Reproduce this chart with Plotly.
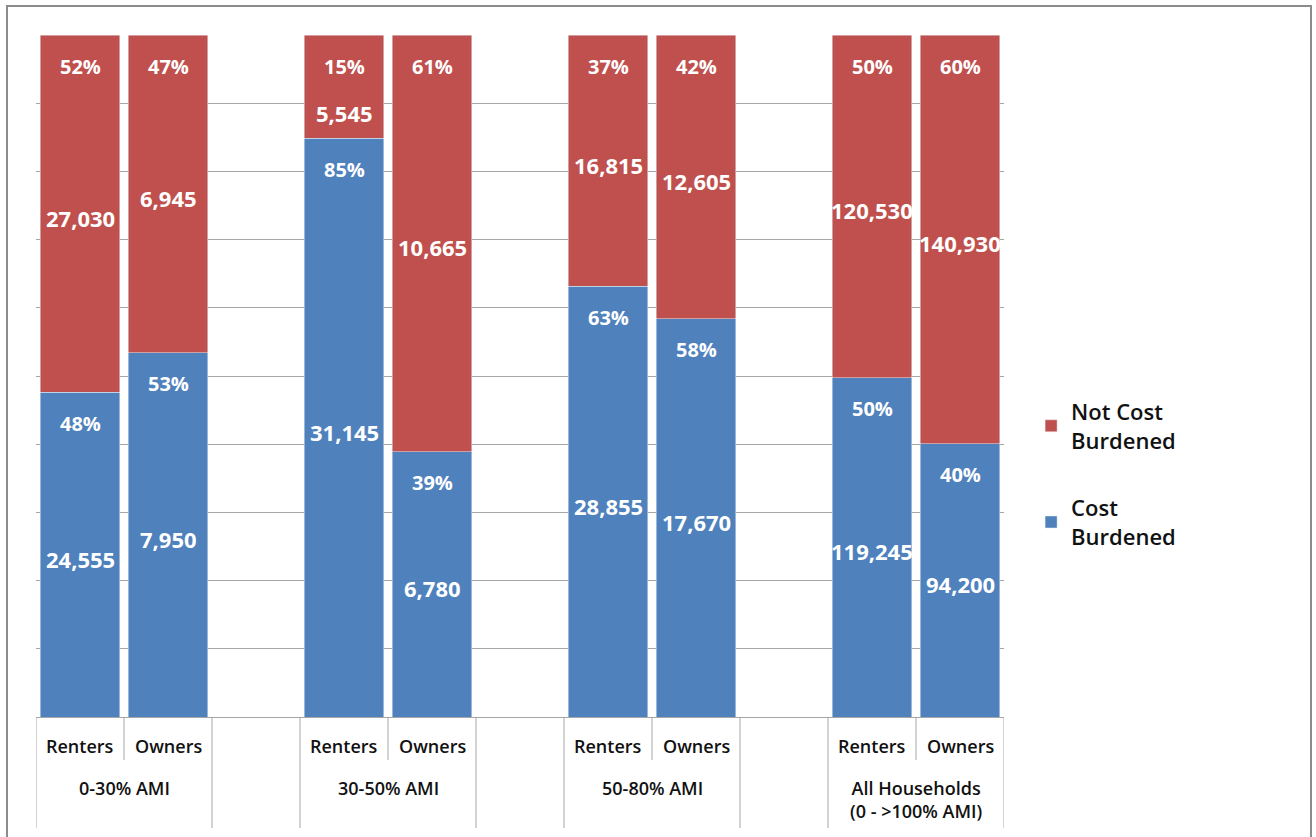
import plotly.graph_objects as go

# ---- data ----
groups = ["0-30% AMI", "30-50% AMI", "50-80% AMI", "All Households<br>(0 - >100% AMI)"]
tenures = ["Renters", "Owners"]
cost_burdened = [24555, 7950, 31145, 6780, 28855, 17670, 119245, 94200]
not_cost_burdened = [27030, 6945, 5545, 10665, 16815, 12605, 120530, 140930]
pct_cost_burdened = ["48%", "53%", "85%", "39%", "63%", "58%", "50%", "40%"]
pct_not_cost_burdened = ["52%", "47%", "15%", "61%", "37%", "42%", "50%", "60%"]

RED = "#C0504D"
BLUE = "#4F81BD"
FONT = "Open Sans"

# positions: each group takes 3 slots (Renters, Owners, blank)
xs, xlabels = [], []
for gi, g in enumerate(groups):
    for ti, t in enumerate(tenures):
        xs.append(gi * 3 + ti)
        xlabels.append(t)

totals = [a + b for a, b in zip(cost_burdened, not_cost_burdened)]
frac_cb = [a / t for a, t in zip(cost_burdened, totals)]
frac_ncb = [b / t for b, t in zip(not_cost_burdened, totals)]

fig = go.Figure()
fig.add_trace(go.Bar(x=xs, y=frac_cb, name="Cost<br>Burdened", marker_color=BLUE,
                     width=0.9, hoverinfo="skip", legendgroup="cb", legendrank=2))
fig.add_trace(go.Bar(x=xs, y=frac_ncb, name="Not Cost<br>Burdened", marker_color=RED,
                     width=0.9, hoverinfo="skip", legendgroup="ncb", legendrank=1))

PLOT_H = 682.0
lab_pct = dict(family=FONT, size=20, color="white", weight="bold")
lab_cnt = dict(family=FONT, size=22, color="white", weight="bold")
annots = []
for i, x in enumerate(xs):
    # blue (bottom) segment
    top_b = frac_cb[i]
    annots.append(dict(x=x, y=top_b, xref="x", yref="y", text=pct_cost_burdened[i],
                       showarrow=False, yshift=-31, font=lab_pct))
    cy = min(top_b / 2, top_b - 74 / PLOT_H)
    annots.append(dict(x=x, y=cy, xref="x", yref="y", text=f"{cost_burdened[i]:,}",
                       showarrow=False, yshift=-4, font=lab_cnt))
    # red (top) segment
    top_r = 1.0
    annots.append(dict(x=x, y=top_r, xref="x", yref="y", text=pct_not_cost_burdened[i],
                       showarrow=False, yshift=-31, font=lab_pct))
    cy = min((top_b + 1.0) / 2, top_r - 74 / PLOT_H)
    annots.append(dict(x=x, y=cy, xref="x", yref="y", text=f"{not_cost_burdened[i]:,}",
                       showarrow=False, yshift=-4, font=lab_cnt))
    # category label
    annots.append(dict(x=x, y=0, xref="x", yref="paper", text=xlabels[i], showarrow=False,
                       yanchor="middle", yshift=-29, font=dict(family=FONT, size=18, color="#111111", weight=600)))

for gi, g in enumerate(groups):
    annots.append(dict(x=gi * 3 + 0.5, y=0, xref="x", yref="paper", text=g, showarrow=False,
                       yanchor="top", yshift=-57, font=dict(family=FONT, size=18, color="#111111", weight=600)))

shapes = []
n_slots = len(groups) * 3 - 1
for b in range(n_slots + 1):
    boundary = b - 0.5
    short = (b % 3 == 1)
    shapes.append(dict(type="line", xref="x", yref="paper", x0=boundary, x1=boundary,
                       y0=0, y1=(-43 if short else -111) / PLOT_H,
                       line=dict(color="#A6A6A6", width=1)))

# outer chart border
shapes.append(dict(type="rect", xref="paper", yref="paper",
                   x0=(7 - 36) / 968, x1=(1311 - 36) / 968,
                   y0=-0.3, y1=1 + 29 / PLOT_H,
                   line=dict(color="#8C8C8C", width=2), fillcolor="rgba(0,0,0,0)"))

fig.update_layout(
    width=1316, height=837,
    margin=dict(l=36, r=312, t=35, b=120),
    barmode="stack",
    paper_bgcolor="white", plot_bgcolor="white",
    showlegend=True,
    legend=dict(x=1.028, xanchor="left", y=0.356, yanchor="middle",
                traceorder="grouped", tracegroupgap=36,
                font=dict(family=FONT, size=22, color="#111111", weight=600),
                bgcolor="rgba(0,0,0,0)"),
    annotations=annots,
    shapes=shapes,
    xaxis=dict(range=[-0.5, n_slots - 0.5], showticklabels=False, ticks="",
               showgrid=False, zeroline=False, showline=True, linecolor="#A6A6A6", linewidth=1),
    yaxis=dict(range=[0, 1], dtick=0.1, showticklabels=False, ticks="",
               showgrid=True, gridcolor="#A6A6A6", gridwidth=1, zeroline=False, showline=False),
)

fig.write_html("out.html")
